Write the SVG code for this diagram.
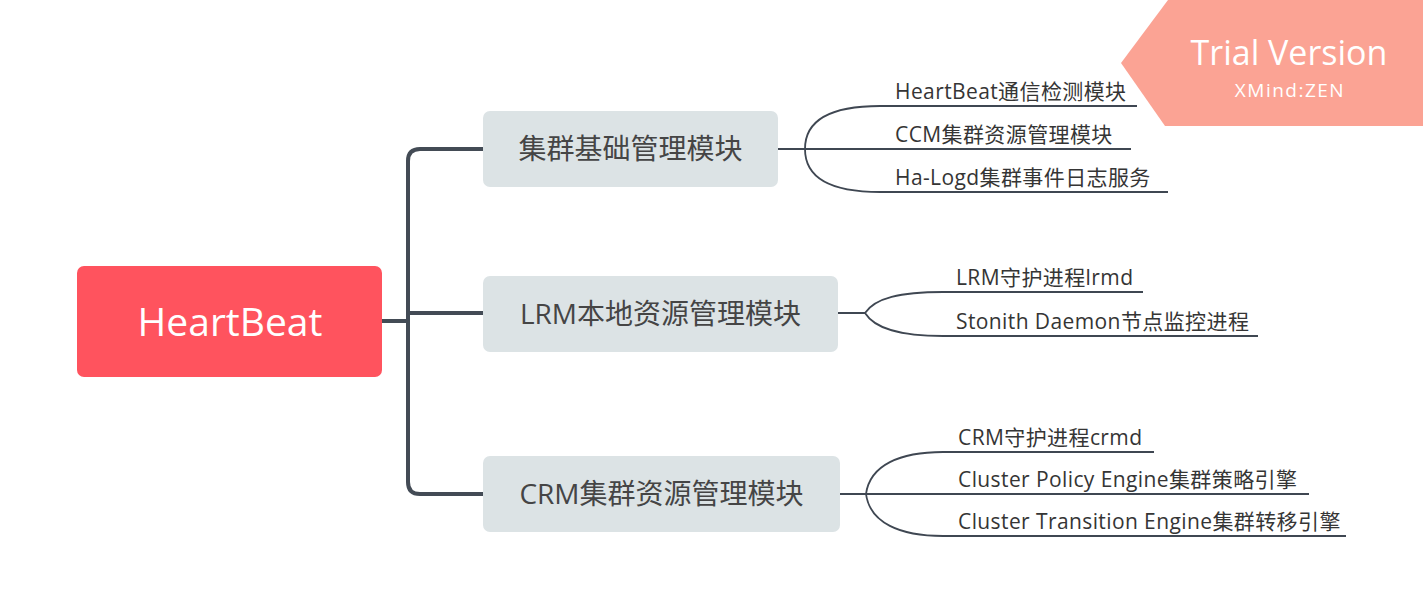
<svg xmlns="http://www.w3.org/2000/svg" width="1423" height="615" viewBox="0 0 1423 615">
<style>
.main{fill:#DCE3E5}
.mt{font-family:"Open Sans","Noto Sans CJK SC",sans-serif;font-size:28px;fill:#454545;text-anchor:middle}
.st{font-family:"Open Sans","Noto Sans CJK SC",sans-serif;font-size:21px;letter-spacing:0.4px;fill:#353535}
.spine{fill:none;stroke:#434B55;stroke-width:4}
.sub{fill:none;stroke:#3F4752;stroke-width:1.8}
</style>
<rect width="1423" height="615" fill="#FFFFFF"/>
<g id="connectors">
<path class="spine" d="M382,321 H408 M483,149 H420 Q408,149 408,161 V482 Q408,494 420,494 H483 M408,313 H483"/>
<path class="sub" d="M778,149 H805 M805,149 C805,120 830,106 880,106 H1137 M805,149 H1131 M805,149 C805,178 830,192 880,192 H1168"/>
<path class="sub" d="M838,313 H865 M865,313 C875,298 900,292 943,292 H1143 M865,313 C875,329 900,336 943,336 H1258"/>
<path class="sub" d="M840,494 H866 M866,494 C870,465 900,452 943,452 H1154 M866,494 H1309 M866,494 C870,523 900,536 943,536 H1346"/>
</g>
<g id="root">
<rect x="77" y="266" width="305" height="111" rx="7" fill="#FF535E"/>
<text x="230" y="336" font-family="'Open Sans',sans-serif" font-size="39" fill="#FFFFFF" text-anchor="middle">HeartBeat</text>
</g>
<g id="node1">
<rect class="main" x="483" y="111" width="295" height="76" rx="7"/>
<text class="mt" x="630.5" y="159">集群基础管理模块</text>
</g>
<g id="node2">
<rect class="main" x="483" y="276" width="355" height="76" rx="7"/>
<text class="mt" x="660.5" y="324">LRM本地资源管理模块</text>
</g>
<g id="node3">
<rect class="main" x="483" y="456" width="357" height="76" rx="7"/>
<text class="mt" x="661.5" y="504">CRM集群资源管理模块</text>
</g>
<g id="sub1a"><text class="st" x="895" y="99">HeartBeat通信检测模块</text></g>
<g id="sub1b"><text class="st" x="895" y="142">CCM集群资源管理模块</text></g>
<g id="sub1c"><text class="st" x="895" y="185">Ha-Logd集群事件日志服务</text></g>
<g id="sub2a"><text class="st" x="956" y="285">LRM守护进程lrmd</text></g>
<g id="sub2b"><text class="st" x="956" y="329">Stonith Daemon节点监控进程</text></g>
<g id="sub3a"><text class="st" x="958" y="445">CRM守护进程crmd</text></g>
<g id="sub3b"><text class="st" x="958" y="487">Cluster Policy Engine集群策略引擎</text></g>
<g id="sub3c"><text class="st" x="958" y="529">Cluster Transition Engine集群转移引擎</text></g>
<g id="watermark">
<polygon points="1168,0 1423,0 1423,126 1165,126 1121,63" fill="#FBA394"/>
<text x="1289" y="65" font-family="'Open Sans',sans-serif" font-size="34" fill="#FFFFFF" text-anchor="middle">Trial Version</text>
<text x="1290" y="97" font-family="'Open Sans',sans-serif" font-size="19" letter-spacing="1.5" fill="#FFFFFF" text-anchor="middle">XMind:ZEN</text>
</g>
</svg>
